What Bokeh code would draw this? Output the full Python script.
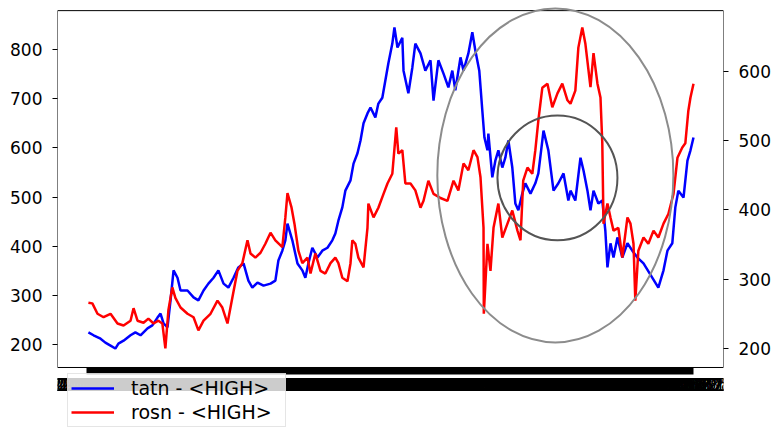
import pandas as pd
from bokeh.plotting import figure
from bokeh.models import Range1d, LinearAxis, FixedTicker, Legend, LegendItem, BoxAnnotation
from bokeh.embed import file_html
from bokeh.resources import INLINE

# ---- data ----
tatn_day = [0, 17, 40, 56, 73, 89, 99, 116, 139, 155,
            172, 195, 211, 228, 238, 248, 261, 271, 281, 294,
            304, 327, 347, 363, 380, 396, 413, 429, 446, 462,
            479, 495, 512, 528, 541, 558, 578, 601, 617, 627,
            640, 650, 657, 673, 690, 706, 716, 726, 739, 756,
            772, 789, 805, 815, 825, 838, 848, 865, 875, 888,
            898, 908, 921, 931, 947, 957, 970, 980, 990, 1003,
            1010, 1020, 1036, 1040, 1056, 1069, 1079, 1096, 1112, 1129,
            1139, 1155, 1172, 1188, 1201, 1211, 1228, 1238, 1254, 1267,
            1277, 1290, 1300, 1307, 1317, 1320, 1333, 1343, 1353, 1366,
            1376, 1386, 1399, 1409, 1419, 1432, 1442, 1459, 1475, 1485,
            1502, 1518, 1535, 1551, 1568, 1584, 1591, 1607, 1624, 1634,
            1647, 1657, 1667, 1683, 1696, 1706, 1713, 1723, 1733, 1746,
            1762, 1779, 1795, 1812, 1832, 1881, 1898, 1911, 1927, 1937,
            1947, 1964, 1977, 1987, 1997]
tatn_high = [225, 219, 212, 204, 198, 192, 202, 208, 219, 225,
             219, 233, 239, 255, 263, 243, 235, 290, 351, 336,
             310, 310, 296, 290, 310, 324, 336, 351, 324, 316,
             336, 357, 365, 330, 316, 326, 320, 324, 330, 371,
             391, 412, 446, 412, 365, 351, 336, 365, 397, 377,
             391, 397, 412, 426, 452, 479, 513, 534, 568, 589,
             615, 650, 670, 682, 662, 690, 702, 737, 772, 812,
             845, 804, 824, 757, 711, 763, 812, 792, 757, 778,
             696, 778, 751, 723, 757, 717, 784, 757, 792, 835,
             798, 757, 676, 621, 595, 629, 540, 574, 595, 560,
             580, 615, 560, 487, 473, 507, 528, 507, 528, 548,
             635, 595, 513, 528, 548, 493, 513, 493, 580, 554,
             513, 473, 513, 487, 493, 432, 357, 406, 377, 418,
             377, 406, 391, 377, 365, 316, 351, 391, 406, 479,
             513, 499, 574, 595, 621]

rosn_day = [0, 13, 30, 50, 73, 96, 116, 139, 149, 162,
            182, 198, 215, 231, 244, 254, 264, 277, 287, 304,
            327, 347, 363, 380, 403, 426, 442, 459, 475, 492,
            508, 525, 535, 551, 568, 584, 601, 617, 640, 650,
            657, 670, 680, 693, 706, 723, 733, 749, 766, 782,
            799, 815, 825, 838, 855, 865, 871, 881, 891, 908,
            921, 924, 941, 957, 974, 987, 1003, 1016, 1023, 1036,
            1046, 1063, 1079, 1096, 1106, 1122, 1139, 1162, 1185, 1205,
            1221, 1238, 1254, 1271, 1284, 1294, 1304, 1305, 1317, 1327,
            1337, 1353, 1366, 1383, 1399, 1416, 1426, 1435, 1449, 1465,
            1475, 1485, 1498, 1515, 1531, 1548, 1564, 1581, 1591, 1607,
            1617, 1630, 1640, 1657, 1667, 1680, 1690, 1696, 1700, 1713,
            1723, 1733, 1749, 1762, 1779, 1789, 1799, 1805, 1815, 1832,
            1848, 1865, 1881, 1898, 1914, 1931, 1944, 1960, 1970, 1980,
            1987, 1997]
rosn_high = [266, 265, 250, 245, 250, 236, 233, 240, 258, 240,
             237, 243, 236, 240, 236, 200, 255, 288, 273, 259,
             250, 245, 226, 240, 250, 269, 259, 236, 273, 312,
             323, 356, 337, 331, 338, 351, 367, 356, 346, 389,
             424, 404, 380, 341, 323, 331, 308, 337, 312, 308,
             323, 331, 323, 302, 297, 323, 356, 351, 331, 317,
             374, 409, 389, 403, 423, 438, 452, 519, 481, 486,
             438, 438, 428, 403, 413, 442, 423, 417, 413, 442,
             428, 467, 457, 486, 476, 447, 374, 250, 351, 312,
             374, 409, 360, 380, 399, 370, 356, 442, 461, 452,
             486, 529, 576, 582, 548, 568, 582, 558, 553, 572,
             634, 663, 640, 577, 626, 582, 562, 496, 380, 409,
             389, 370, 374, 331, 389, 380, 351, 269, 341, 360,
             351, 370, 360, 380, 394, 423, 475, 490, 496, 543,
             562, 582]

# highlighted regions (centre day, centre value on left axis, width in days, height in value units)
ring_day = [1541, 1548]
ring_value = [544, 539]
ring_width = [779, 396]
ring_height = [679, 254]

left_ticks = [200, 300, 400, 500, 600, 700, 800]
right_ticks = [200, 300, 400, 500, 600]

series_labels = ["tatn - <HIGH>", "rosn - <HIGH>"]

# date labels of the (overlapping) categorical x axis, YYYYMMDD as in the export
tick_days = list(range(0, 2000, 10))
trade_dates = pd.bdate_range("2015-01-05", periods=2000)
tick_labels = [trade_dates[d].strftime("%Y%m%d") for d in tick_days]

# axes box limits (data units)
X_LO, X_HI = -102, 2096
Y_LO, Y_HI = 153.5, 879

# ---- figure ----
FONT = "DejaVu Sans"
p = figure(width=774, height=427, output_backend="svg", toolbar_location=None,
           x_range=Range1d(X_LO, X_HI), y_range=Range1d(31.5, 899.6),
           min_border_left=57, min_border_right=51, min_border_top=0,
           min_border_bottom=0)
p.background_fill_color = "white"
p.border_fill_color = "white"
p.outline_line_color = None
p.xgrid.visible = False
p.ygrid.visible = False

p.extra_y_ranges = {"right": Range1d(85.9, 702.0)}

blue = p.line(tatn_day, tatn_high, color="#0000ff", line_width=2.5)
red = p.line(rosn_day, rosn_high, color="#ff0000", line_width=2.5, y_range_name="right")

p.ellipse(x=ring_day[:1], y=ring_value[:1], width=ring_width[:1], height=ring_height[:1],
          fill_color=None, line_color="#8c8c8c", line_width=2)
p.ellipse(x=ring_day[1:], y=ring_value[1:], width=ring_width[1:], height=ring_height[1:],
          fill_color=None, line_color="#555555", line_width=2)

# axes box (matplotlib-like spines)
box = BoxAnnotation(left=X_LO, right=X_HI, bottom=Y_LO, top=Y_HI,
                    fill_alpha=0, line_color="black", line_width=1, line_alpha=1,
                    level="underlay")
p.add_layout(box)

# left axis
ly = p.yaxis[0]
ly.ticker = FixedTicker(ticks=left_ticks)
ly.axis_line_color = None
ly.major_tick_out = 5
ly.major_tick_in = 0
ly.minor_tick_out = 0
ly.minor_tick_in = 0
ly.major_label_standoff = 10
ly.major_label_text_font = FONT
ly.major_label_text_font_size = "17px"
ly.major_label_text_color = "black"

# right axis
ry = LinearAxis(y_range_name="right", ticker=FixedTicker(ticks=right_ticks))
ry.axis_line_color = None
ry.major_tick_out = 5
ry.major_tick_in = 0
ry.minor_tick_out = 0
ry.minor_tick_in = 0
ry.major_label_standoff = 10
ry.major_label_text_font = FONT
ry.major_label_text_font_size = "17px"
ry.major_label_text_color = "black"
p.add_layout(ry, "right")

# bottom axis on the bottom of the box: every date labelled, so the labels pile up
bx = p.xaxis[0]
bx.fixed_location = Y_LO
bx.ticker = FixedTicker(ticks=tick_days)
bx.major_label_overrides = dict(zip(tick_days, tick_labels))
bx.axis_line_color = None
bx.major_tick_out = 7
bx.major_tick_in = 0
bx.major_tick_line_width = 4
bx.minor_tick_out = 0
bx.minor_tick_in = 0
bx.major_label_standoff = 4
bx.major_label_text_font = FONT
bx.major_label_text_font_size = "17px"
bx.major_label_text_color = "black"

legend = Legend(items=[LegendItem(label=series_labels[0], renderers=[blue]),
                       LegendItem(label=series_labels[1], renderers=[red])],
                location=(10, 0))
legend.background_fill_color = "white"
legend.background_fill_alpha = 0.8
legend.border_line_color = "#cccccc"
legend.border_line_width = 1
legend.margin = 0
legend.padding = 3
legend.spacing = 2
legend.glyph_width = 43
legend.glyph_height = 20
legend.label_height = 20
legend.label_width = 151
legend.label_standoff = 17
legend.label_text_font = FONT
legend.label_text_font_size = "19px"
legend.label_text_color = "black"
p.add_layout(legend)

open("out.html", "w").write(file_html(p, INLINE))
